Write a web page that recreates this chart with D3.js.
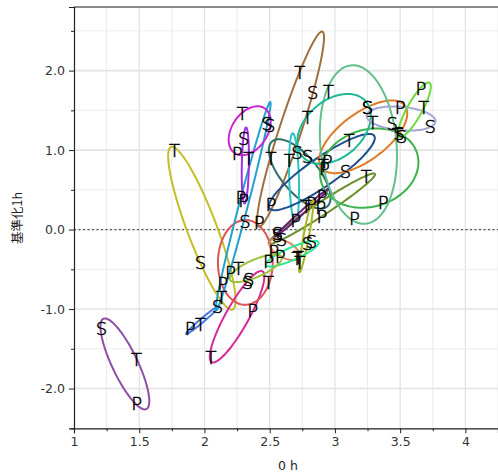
<!DOCTYPE html>
<html><head><meta charset="utf-8">
<script src="https://cdn.jsdelivr.net/npm/d3@7"></script>
<style>body{margin:0;background:#fff}svg{display:block}</style>
</head><body>
<svg id="c" width="498" height="472"></svg>
<script>
// ---- data ----
const xMajorTicks=[1,1.5,2,2.5,3,3.5,4];
const xMinorTicks=[1.25,1.75,2.25,2.75,3.25,3.75,4.25];
const yMajorTicks=[-2,-1,0,1,2];
const yMinorTicks=[-2.5,-1.5,-0.5,0.5,1.5,2.5];
const pointLabels=["S","T","P"];
const groups=["g1","g2","g3","g4","g5","g6","g7","g8","g9","g10","g11","g12","g13","g14","g15","g16","g17","g18","g19","g20","g21","g22","g23","g24"];
const groupColors=["#8e4fa6","#c5bd2a","#4878e0","#d42a9a","#dd5555","#23a0cf","#a030e0","#c828d0","#a07040","#2e6e68","#2ac4c4","#1f4f8f","#6a8f2a","#6a1f78","#a8b420","#e38466","#2ee89a","#9cc23a","#3cb44b","#e07b24","#62c08c","#20b896","#a3a8d4","#6cdc3c"];
// S, T, P coordinates per group
const sX=[1.21,1.97,2.10,2.33,2.31,2.48,2.30,2.50,2.83,2.79,2.71,3.08,2.56,2.56,2.79,2.59,2.82,2.34,3.51,3.25,3.44,3.25,3.73,3.49];
const sY=[-1.24,-0.41,-0.97,-0.66,0.10,1.33,1.15,1.31,1.73,0.92,0.97,0.73,-0.05,-0.07,-0.17,-0.13,-0.15,-0.63,1.17,1.53,1.33,1.54,1.30,1.21];
const tX=[1.48,1.77,1.97,2.05,2.49,2.13,2.34,2.29,2.73,2.51,2.65,3.11,3.24,2.78,2.73,2.72,2.71,2.26,2.91,3.48,2.95,2.79,3.29,3.68];
const tY=[-1.64,1.00,-1.19,-1.61,-0.66,-0.85,0.90,1.46,1.97,0.90,0.87,1.12,0.67,0.29,-0.41,-0.35,-0.36,-0.49,0.81,1.20,1.74,1.41,1.35,1.53];
const pX=[1.48,2.20,1.89,2.37,2.14,2.28,2.30,2.25,2.42,2.89,2.70,2.51,2.90,2.90,2.82,2.53,2.49,2.58,3.37,2.92,3.15,2.94,3.50,3.66];
const pY=[-2.19,-0.54,-1.25,-1.02,-0.68,0.40,0.37,0.96,0.09,0.28,0.12,0.32,0.17,0.42,0.33,-0.27,-0.40,-0.34,0.34,0.77,0.14,0.85,1.54,1.78];
const xTitle="0 h", yTitle="基準化1h";

// ---- chart ----
const svg=d3.select("#c");
const L=74,R=498,T=7,B=428.3;
const x=d3.scaleLinear().domain([1,4.25]).range([L,R]);
const y=d3.scaleLinear().domain([-2.5,2.8]).range([B,T]);
const font="DejaVu Sans, Verdana, sans-serif";

svg.append("defs").append("clipPath").attr("id","clip").append("rect")
  .attr("x",L).attr("y",T).attr("width",R-L).attr("height",B-T);

const grid=svg.append("g");
grid.selectAll(".vx").data(xMinorTicks).join("line")
  .attr("x1",d=>x(d)).attr("x2",d=>x(d)).attr("y1",T).attr("y2",B)
  .attr("stroke","#ebebeb").attr("stroke-width",1);
grid.selectAll(".vX").data(xMajorTicks.slice(1)).join("line")
  .attr("x1",d=>x(d)).attr("x2",d=>x(d)).attr("y1",T).attr("y2",B)
  .attr("stroke","#e3e3e3").attr("stroke-width",1.3);
grid.selectAll(".hy").data(yMinorTicks).join("line")
  .attr("y1",d=>y(d)).attr("y2",d=>y(d)).attr("x1",L).attr("x2",R)
  .attr("stroke","#ededed").attr("stroke-width",1);
grid.selectAll(".hY").data(yMajorTicks).join("line")
  .attr("y1",d=>y(d)).attr("y2",d=>y(d)).attr("x1",L).attr("x2",R)
  .attr("stroke","#e3e3e3").attr("stroke-width",1.6);

// zero line
svg.append("line").attr("x1",L).attr("x2",R).attr("y1",y(0)).attr("y2",y(0))
  .attr("stroke","#555").attr("stroke-width",1.3).attr("stroke-dasharray","2,2.5");

// top border
svg.append("line").attr("x1",L).attr("x2",R).attr("y1",T).attr("y2",T)
  .attr("stroke","#666").attr("stroke-width",1.6);

// axes
svg.append("g").attr("transform",`translate(0,${B})`)
  .call(d3.axisBottom(x).tickValues(xMajorTicks).tickSize(5).tickPadding(4).tickFormat(d3.format("")));
svg.append("g").attr("transform",`translate(0,${B})`)
  .call(d3.axisBottom(x).tickValues(xMinorTicks.filter(d=>d<4.25)).tickSize(3).tickFormat(""))
  .call(g=>g.select(".domain").remove());
const yAxis=svg.append("g").attr("transform",`translate(${L},0)`)
  .call(d3.axisLeft(y).tickValues(yMajorTicks).tickSize(5).tickPadding(4).tickFormat(d3.format(".1f")));
svg.append("g").attr("transform",`translate(${L},0)`)
  .call(d3.axisLeft(y).tickValues(yMinorTicks).tickSize(3).tickFormat(""))
  .call(g=>g.select(".domain").remove());
svg.selectAll(".tick text").attr("font-family",font).attr("font-size",12.5).attr("fill","#333");
svg.selectAll(".domain").attr("stroke","#222").attr("stroke-width",1.2);
svg.selectAll(".tick line").attr("stroke","#222");
yAxis.selectAll(".tick text").text(d=>d3.format(".1f")(d).replace("−","-"));

svg.append("text").attr("x",(L+R)/2+2).attr("y",470).attr("text-anchor","middle")
  .attr("font-family",font).attr("font-size",12.5).attr("fill","#222").text(xTitle);
svg.append("text").attr("transform",`translate(22,218) rotate(-90)`).attr("text-anchor","middle")
  .attr("font-family","Noto Sans CJK JP, sans-serif").attr("font-size",12.5).attr("fill","#222").text(yTitle);

// ellipses (covariance ellipse of each group's three points)
function ellipse(xs,ys,k){
  const n=xs.length,mx=d3.mean(xs),my=d3.mean(ys);
  let sxx=0,syy=0,sxy=0;
  for(let i=0;i<n;i++){const dx=xs[i]-mx,dy=ys[i]-my;sxx+=dx*dx;syy+=dy*dy;sxy+=dx*dy;}
  sxx/=(n-1);syy/=(n-1);sxy/=(n-1);
  const a=Math.sqrt(Math.max(sxx,1e-9)),b=sxy/a,c=Math.sqrt(Math.max(syy-b*b,1e-6));
  return d3.range(0,360,3).map(t=>{const r=t*Math.PI/180,u=Math.cos(r),v=Math.sin(r);
    return [mx+k*a*u,my+k*(b*u+c*v)];});
}
const K=1.2;
const line=d3.line().x(d=>x(d[0])).y(d=>y(d[1])).curve(d3.curveCardinalClosed);
const plot=svg.append("g").attr("clip-path","url(#clip)");
groups.forEach((g,i)=>{
  const xs=[sX[i],tX[i],pX[i]],ys=[sY[i],tY[i],pY[i]];
  plot.append("path").attr("d",line(ellipse(xs,ys,K)))
    .attr("fill","none").attr("stroke",groupColors[i]).attr("stroke-width",2);
});
const lab=svg.append("g");
groups.forEach((g,i)=>{
  const pts=[[sX[i],sY[i]],[tX[i],tY[i]],[pX[i],pY[i]]];
  pts.forEach((p,j)=>{
    lab.append("text").attr("x",x(p[0])).attr("y",y(p[1])).attr("dy","0.36em")
      .attr("text-anchor","middle").attr("font-family",font).attr("font-size",18)
      .attr("font-weight",200).attr("fill","#000").attr("stroke","#000").attr("stroke-width",0.5)
      .text(pointLabels[j]);
  });
});
</script>
</body></html>
